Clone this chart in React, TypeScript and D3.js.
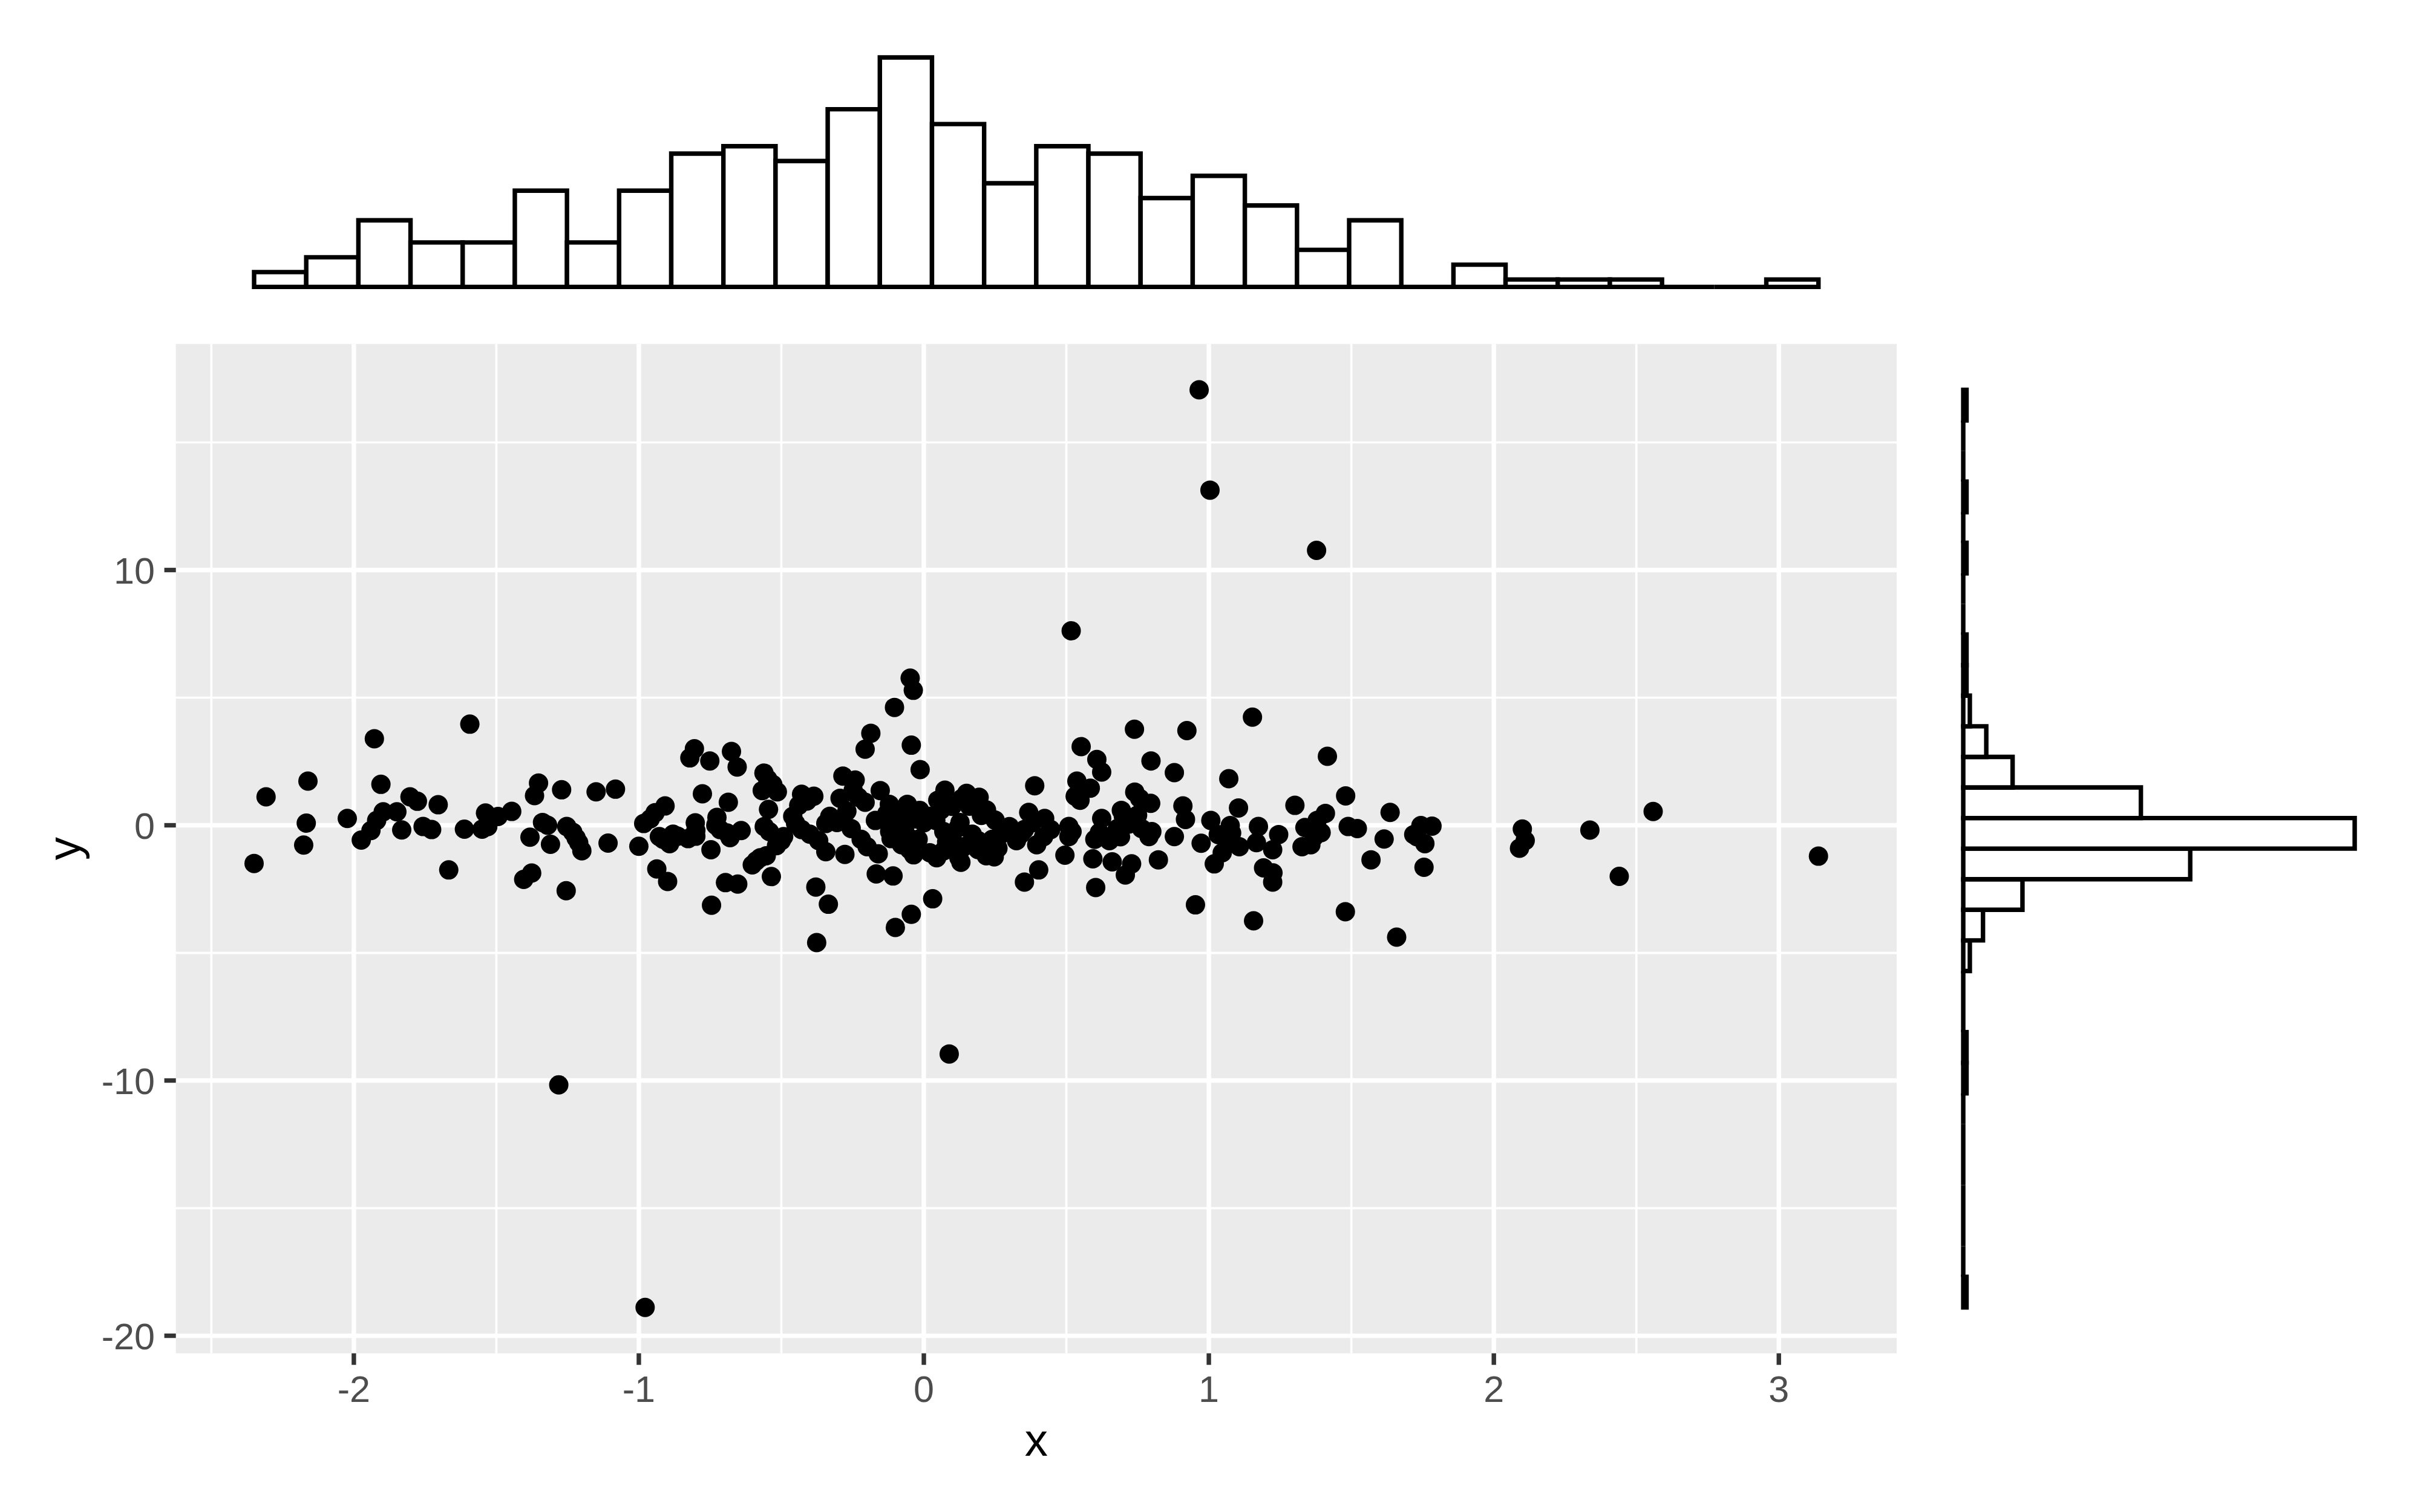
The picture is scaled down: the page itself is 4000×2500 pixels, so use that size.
import React from 'react';
import * as d3 from 'd3';

// ---------------- data ----------------
const pointX = [
  // left part
  -2.350, -2.308, -2.161, -2.167, -2.176, -2.023, -1.928, -1.905, -1.974, -1.940,
  -1.920, -1.897, -1.849, -1.832, -1.803, -1.777, -1.704, -1.757, -1.727, -1.667,
  -1.593, -1.612, -1.550, -1.538, -1.494, -1.446, -1.352, -1.366, -1.338, -1.382,
  -1.310, -1.376, -1.404,
  // -1.3 .. -0.28
  -1.271, -1.150, -1.082, -1.253, -1.232, -1.211, -1.200, -1.255, -1.108, -1.000,
  -0.983, -0.943, -0.908, -0.928, -0.892, -0.864, -0.827, -0.800, -0.802, -0.937,
  -0.899, -0.821, -0.805, -0.751, -0.675, -0.655, -0.777, -0.686, -0.726, -0.715,
  -0.680, -0.641, -0.747, -0.696, -0.653, -0.745, -0.561, -0.548, -0.567, -0.514,
  -0.545, -0.542, -0.492, -0.517, -0.553, -0.574, -0.602, -0.535, -0.429, -0.386,
  -0.439, -0.450, -0.429, -0.369, -0.344, -0.379, -0.335, -0.376, -0.284, -0.294,
  -0.344, -0.305, -0.277, -0.588,
  // -0.28 .. 0.8
  -0.048, -0.037, -0.103, -0.186, -0.206, -0.044, -0.013, -0.241, -0.248, -0.153,
  -0.206, -0.170, -0.255, -0.199, -0.160, -0.121, -0.115, -0.167, -0.108, -0.058,
  -0.015, -0.064, -0.078, -0.036, -0.057, 0.021, 0.042, 0.074, 0.049, 0.099,
  0.134, 0.194, 0.202, 0.127, 0.070, 0.070, 0.045, 0.123, 0.141, 0.191,
  0.219, 0.247, 0.269, 0.325, 0.353, 0.304, 0.389, 0.368, 0.424, 0.445,
  0.396, 0.403, 0.353, 0.509, 0.509, 0.495, 0.552, 0.607, 0.624, 0.537,
  0.584, 0.531, 0.548, 0.624, 0.616, 0.651, 0.593, 0.661, 0.729, 0.707,
  0.603, 0.739, 0.693, 0.757, 0.764, 0.797, 0.679, 0.790, 0.031, -0.044,
  -0.100,
  // 0.8 .. 1.8
  0.923, 1.153, 1.416, 0.879, 1.070, 0.796, 0.909, 0.918, 0.879, 0.823,
  0.953, 0.973, 1.007, 1.075, 1.104, 1.033, 1.072, 1.107, 1.047, 1.019,
  1.174, 1.167, 1.245, 1.224, 1.192, 1.225, 1.224, 1.157, 1.302, 1.337,
  1.327, 1.358, 1.380, 1.409, 1.394, 1.480, 1.479, 1.489, 1.521, 1.636,
  1.615, 1.569, 1.659, 1.719, 1.744, 1.783, 1.758, 1.755, 1.730,
  // sparse right
  2.090, 2.110, 2.100, 2.337, 2.559, 2.440, 3.139,
  // outliers
  0.966, 1.004, 1.378, 0.517, 0.089, -1.281, -0.978,
  // points hidden in the dense clusters
  -0.23, -0.13, -0.11, -0.12, -0.22, -0.27,
  -0.08, -0.03, -0.07, -0.02, -0.05, 0.00, 0.06, 0.08, 0.02, -0.09, 0.08,
  0.15, 0.16, 0.22, 0.25, 0.12, 0.17, 0.24, 0.11, 0.19, 0.26, 0.13,
  0.30, 0.34, 0.42, 0.38,
  0.52, 0.60,
  0.70, 0.72, 0.69, 0.75, 0.80, 0.74, 0.68,
  1.08, 1.37, -1.32, -1.22,
  -0.915, -0.88, -0.96,
  -0.73, -0.69, -0.80,
  -0.53, -0.50, -0.56,
  -0.41, -0.46, -0.33, -0.40,
  -1.53,
];

const pointY = [
  -1.496, 1.114, 1.730, 0.085, -0.776, 0.267, 3.391, 1.604, -0.579, -0.207,
  0.188, 0.528, 0.528, -0.183, 1.114, 0.940, 0.805, -0.049, -0.168, -1.749,
  3.961, -0.152, -0.152, 0.481, 0.347, 0.544, 1.651, 1.161, 0.109, -0.468,
  -0.745, -1.870, -2.121,
  1.390, 1.311, 1.414, -0.049, -0.270, -0.681, -0.998, -2.563, -0.697, -0.824,
  0.070, 0.490, 0.757, -0.444, -0.720, -0.428, -0.523, -0.428, 0.094, -1.710,
  -2.200, 2.640, 2.996, 2.520, 2.890, 2.284, 1.232, 0.900, 0.307, -0.168,
  -0.484, -0.207, -0.958, -2.247, -2.303, -3.133, 2.047, 1.810, 1.359, 1.311,
  0.623, -0.247, -0.444, -0.800, -1.195, -1.270, -1.550, -2.010, 1.216, 1.137,
  0.781, 0.070, -0.168, -0.602, -1.037, -2.420, -3.094, -4.596, 1.928, 1.058,
  0.070, 0.108, -1.140, -1.393,
  5.764, 5.289, 4.617, 3.605, 2.980, 3.138, 2.181, 1.770, 1.375, 1.359,
  0.900, 0.188, -0.128, -0.840, -1.116, 0.821, -0.523, -1.907, -1.986, 0.821,
  0.584, 0.030, -0.761, -1.156, -0.444, -1.077, 0.188, 1.375, 0.980, 0.742,
  1.058, 1.098, 0.386, 0.109, -0.247, -0.998, -1.274, -1.274, -0.840, -0.602,
  -1.195, -1.235, -0.365, -0.602, -0.168, -0.168, 1.549, 0.505, 0.267, -0.168,
  -0.761, -1.749, -2.224, -0.049, -0.444, -1.172, 3.080, 2.577, 2.086, 1.730,
  1.454, 1.137, 0.980, 0.267, -0.286, -0.602, -1.314, -1.433, -1.512, -1.947,
  -2.437, 3.763, 0.584, 1.058, -0.128, 2.521, -0.128, -0.444, -2.880, -3.490,
  -4.003,
  3.708, 4.237, 2.703, 2.063, 1.825, 0.861, 0.758, 0.228, -0.444, -1.354,
  -3.117, -0.705, 0.188, -0.010, 0.679, -0.365, -0.523, -0.840, -1.077, -1.512,
  -0.049, -0.681, -0.365, -0.958, -1.670, -1.868, -2.224, -3.742, 0.781, -0.088,
  -0.840, -0.761, 0.188, 0.465, -0.286, 1.153, -3.386, -0.049, -0.128, 0.505,
  -0.539, -1.354, -4.382, -0.365, -0.010, -0.033, -0.720, -1.646, -0.450,
  -0.900, -0.600, -0.150, -0.190, 0.540, -2.000, -1.210,
  17.06, 13.13, 10.77, 7.62, -8.96, -10.17, -18.89,
  1.10, 0.45, 0.15, -0.25, -0.55, 0.55,
  0.45, 0.25, -0.15, -0.55, -0.95, 0.10, 0.60, -0.65, 0.35, -0.40, 0.85,
  1.25, 0.75, 0.60, 0.20, -0.10, -0.35, -0.55, -0.75, -0.95, -0.90, -1.45,
  -0.05, -0.35, -0.45, 0.10,
  -0.25, -0.55,
  0.35, 0.05, -0.45, 0.40, -0.25, 1.30, -0.20,
  -0.30, -0.45, 0.00, -0.50,
  -0.55, -0.35, 0.25,
  0.00, -0.30, -0.20,
  1.60, -0.60, -0.05,
  0.95, 0.35, 0.35, -0.35,
  -0.05,
];

// marginal histogram counts (30 bins each)
const xHistCounts = [2, 4, 9, 6, 6, 13, 6, 13, 18, 19, 17, 24, 31, 22, 14, 19, 18, 12, 15, 11, 5, 9, 0, 3, 1, 1, 1, 0, 0, 1];
// y bins from lowest to highest value
const yHistCounts = [1, 0, 0, 0, 0, 0, 0, 1, 1, 0, 0, 2, 6, 18, 69, 119, 54, 15, 7, 2, 1, 1, 0, 0, 1, 0, 1, 0, 0, 1];

const xTicks = [-2, -1, 0, 1, 2, 3];
const yTicks = [-20, -10, 0, 10];
const xTitle = 'x';
const yTitle = 'y';

// ---------------- layout ----------------
const W = 4000;
const H = 2500;
const panel = { left: 290.7, right: 3135, top: 568.7, bottom: 2237.6 };
const topHist = { top: 76, bottom: 493.3 };
const rightHist = { left: 3212.7, right: 3924.4 };
const FONT = "'Liberation Sans', Arial, Helvetica, sans-serif";
const LW = 7.4; // 0.5 mm at 500 dpi
const TICK = 19.1;
const R = 16;

function expand(lo: number, hi: number, mult = 0.05): [number, number] {
  const d = hi - lo;
  return [lo - d * mult, hi + d * mult];
}

// ggplot2 style breaks for bins = 30
function ggBinEdges(values: number[], n = 30): number[] {
  const [mn, mx] = d3.extent(values) as [number, number];
  const w = (mx - mn) / (n - 1);
  const origin = w / 2 + Math.floor((mn - w / 2) / w) * w;
  return d3.range(n + 1).map((i) => origin + i * w);
}

function minorBreaks(major: number[], domain: [number, number]): number[] {
  const step = major[1] - major[0];
  const out: number[] = [];
  for (let v = major[0] - step / 2; v <= major[major.length - 1] + step / 2 + 1e-9; v += step) {
    if (v >= domain[0] && v <= domain[1]) out.push(v);
  }
  return out;
}

export default function App() {
  const xExt = d3.extent(pointX) as [number, number];
  const yExt = d3.extent(pointY) as [number, number];
  const xDom = expand(xExt[0], xExt[1]);
  const yDom = expand(yExt[0], yExt[1]);
  const x = d3.scaleLinear().domain(xDom).range([panel.left, panel.right]);
  const y = d3.scaleLinear().domain(yDom).range([panel.bottom, panel.top]);

  const xMinor = minorBreaks(xTicks, xDom);
  const yMinor = minorBreaks(yTicks, yDom);

  // top histogram
  const xEdges = ggBinEdges(pointX, 30);
  const hx = d3
    .scaleLinear()
    .domain(expand(xEdges[0], xEdges[xEdges.length - 1]))
    .range([panel.left, panel.right]);
  const xMax = d3.max(xHistCounts) as number;
  const hcY = d3.scaleLinear().domain(expand(0, xMax)).range([topHist.bottom, topHist.top]);

  // right histogram
  const yEdges = ggBinEdges(pointY, 30);
  const hy = d3
    .scaleLinear()
    .domain(expand(yEdges[0], yEdges[yEdges.length - 1]))
    .range([panel.bottom, panel.top]);
  const yMax = d3.max(yHistCounts) as number;
  const hcX = d3.scaleLinear().domain(expand(0, yMax)).range([rightHist.left, rightHist.right]);

  const fmt = (v: number) => String(v);

  return (
    <svg
      width={W}
      height={H}
      viewBox={`0 0 ${W} ${H}`}
      style={{ position: 'absolute', left: 0, top: 0, display: 'block', background: '#ffffff' }}
    >
      <rect x={0} y={0} width={W} height={H} fill="#ffffff" />

      {/* main panel */}
      <rect
        x={panel.left}
        y={panel.top}
        width={panel.right - panel.left}
        height={panel.bottom - panel.top}
        fill="#EBEBEB"
      />
      {xMinor.map((v) => (
        <line key={`xm${v}`} x1={x(v)} x2={x(v)} y1={panel.top} y2={panel.bottom} stroke="#ffffff" strokeWidth={LW / 2} />
      ))}
      {yMinor.map((v) => (
        <line key={`ym${v}`} x1={panel.left} x2={panel.right} y1={y(v)} y2={y(v)} stroke="#ffffff" strokeWidth={LW / 2} />
      ))}
      {xTicks.map((v) => (
        <line key={`xg${v}`} x1={x(v)} x2={x(v)} y1={panel.top} y2={panel.bottom} stroke="#ffffff" strokeWidth={LW} />
      ))}
      {yTicks.map((v) => (
        <line key={`yg${v}`} x1={panel.left} x2={panel.right} y1={y(v)} y2={y(v)} stroke="#ffffff" strokeWidth={LW} />
      ))}

      {/* points */}
      <g fill="#000000">
        {pointX.map((px, i) => (
          <circle key={`p${i}`} cx={x(px)} cy={y(pointY[i])} r={R} />
        ))}
      </g>

      {/* axes */}
      {xTicks.map((v) => (
        <g key={`xt${v}`}>
          <line x1={x(v)} x2={x(v)} y1={panel.bottom} y2={panel.bottom + TICK} stroke="#333333" strokeWidth={LW} />
          <text x={x(v)} y={2318} textAnchor="middle" fontFamily={FONT} fontSize={61.1} fill="#4D4D4D">
            {fmt(v)}
          </text>
        </g>
      ))}
      {yTicks.map((v) => (
        <g key={`yt${v}`}>
          <line x1={panel.left - TICK} x2={panel.left} y1={y(v)} y2={y(v)} stroke="#333333" strokeWidth={LW} />
          <text x={256} y={y(v) + 22} textAnchor="end" fontFamily={FONT} fontSize={61.1} fill="#4D4D4D">
            {fmt(v)}
          </text>
        </g>
      ))}
      <text x={(panel.left + panel.right) / 2} y={2407} textAnchor="middle" fontFamily={FONT} fontSize={76.4} fill="#000000">
        {xTitle}
      </text>
      <text
        transform={`translate(132,${(panel.top + panel.bottom) / 2}) rotate(-90)`}
        textAnchor="middle"
        fontFamily={FONT}
        fontSize={76.4}
        fill="#000000"
      >
        {yTitle}
      </text>

      {/* top marginal histogram */}
      <g fill="#ffffff" stroke="#000000" strokeWidth={LW} strokeLinejoin="miter">
        {xHistCounts.map((c, i) => {
          const x0 = hx(xEdges[i]);
          const x1 = hx(xEdges[i + 1]);
          const y0 = hcY(0);
          const y1 = hcY(c);
          return <path key={`hx${i}`} d={`M${x0},${y0}V${y1}H${x1}V${y0}Z`} />;
        })}
      </g>

      {/* right marginal histogram */}
      <g fill="#ffffff" stroke="#000000" strokeWidth={LW} strokeLinejoin="miter">
        {yHistCounts.map((c, i) => {
          const y0 = hy(yEdges[i]);
          const y1 = hy(yEdges[i + 1]);
          const x0 = hcX(0);
          const x1 = hcX(c);
          return <path key={`hy${i}`} d={`M${x0},${y0}H${x1}V${y1}H${x0}Z`} />;
        })}
      </g>
    </svg>
  );
}
